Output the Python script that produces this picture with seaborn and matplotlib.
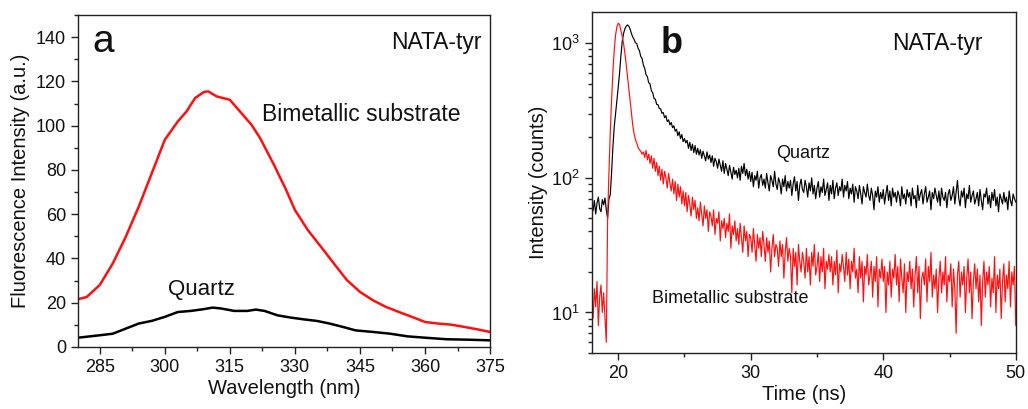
import numpy as np
import pandas as pd
import matplotlib
matplotlib.use("Agg")
import matplotlib.pyplot as plt
import seaborn as sns
from matplotlib.ticker import AutoMinorLocator, LogLocator, NullFormatter, FixedLocator

# ---------------- Panel a: emission spectra ----------------
wl_bimetal = [280, 282, 285, 288, 291, 294, 297, 300, 303, 305, 307, 309, 310, 312, 315,
              318, 320, 322, 325, 328, 330, 333, 336, 339, 342, 345, 348, 351, 354, 357,
              360, 363, 366, 369, 372, 375]
int_bimetal = [21.6, 22.6, 28.0, 37.7, 49.8, 63.4, 78.5, 93.6, 101.9, 106.4, 112.5, 115.2,
               115.5, 113.2, 111.7, 104.9, 100.4, 94.3, 83.0, 70.9, 61.9, 52.8, 45.3, 37.7,
               30.2, 24.9, 21.1, 18.1, 15.8, 13.6, 11.3, 10.6, 10.1, 9.1, 8.0, 6.8]

wl_quartz = [280, 285, 288, 291, 294, 297, 300, 303, 306, 309, 311, 313, 316, 319, 321, 323,
             326, 329, 332, 335, 338, 341, 344, 348, 352, 356, 360, 365, 370, 375]
int_quartz = [4.2, 5.3, 6.0, 8.3, 10.6, 11.8, 13.6, 15.8, 16.3, 17.1, 17.8, 17.4, 16.3, 16.3,
              16.9, 16.3, 14.3, 13.3, 12.5, 11.8, 10.6, 9.1, 7.5, 6.8, 6.0, 4.8, 4.2, 3.5,
              3.3, 3.0]

# ---------------- Panel b: decay curves (0.1 ns channels, 18-50 ns) ----------------
time_ns = np.round(np.arange(180, 501) / 10.0, 1)

counts_quartz = [
    62, 57, 68, 54, 65, 72, 59, 56, 69, 63,
    71, 58, 50, 70, 75, 110, 170, 240, 300, 380,
    470, 600, 800, 1030, 1180, 1280, 1340, 1370, 1340, 1270,
    1180, 1110, 1070, 1010, 995, 920, 880, 800, 770, 690,
    650, 585, 565, 510, 500, 445, 430, 390, 385, 352,
    350, 328, 326, 302, 306, 280, 290, 262, 270, 248,
    258, 236, 244, 222, 230, 206, 220, 196, 210, 186,
    196, 182, 190, 166, 184, 160, 178, 154, 174, 150,
    166, 148, 162, 140, 158, 146, 134, 156, 138, 148,
    130, 146, 122, 140, 132, 118, 138, 124, 112, 134,
    108, 128, 116, 104, 124, 110, 98, 120, 106, 114,
    100, 118, 96, 122, 108, 128, 104, 116, 98, 112,
    94, 110, 86, 104, 96, 112, 84, 100, 106, 88,
    98, 84, 108, 92, 80, 104, 96, 86, 112, 90,
    82, 100, 92, 76, 98, 86, 104, 80, 94, 84,
    96, 74, 90, 102, 80, 94, 68, 88, 98, 82,
    78, 96, 86, 72, 92, 80, 100, 76, 88, 70,
    84, 94, 72, 86, 78, 98, 74, 82, 92, 68,
    88, 76, 96, 70, 84, 92, 74, 86, 80, 98,
    72, 88, 80, 94, 70, 84, 76, 90, 66, 86,
    80, 70, 88, 76, 64, 86, 78, 72, 90, 74,
    68, 84, 74, 58, 80, 72, 86, 66, 78, 70,
    82, 64, 76, 88, 68, 80, 62, 84, 72, 78,
    66, 80, 74, 62, 86, 70, 76, 64, 82, 72,
    78, 62, 84, 70, 74, 60, 88, 68, 76, 82,
    64, 76, 86, 66, 72, 80, 58, 78, 70, 84,
    74, 66, 80, 62, 84, 72, 68, 78, 60, 76,
    82, 68, 74, 86, 64, 78, 96, 70, 62, 80,
    72, 84, 60, 76, 70, 88, 66, 74, 80, 64,
    70, 78, 62, 82, 68, 58, 76, 72, 84, 64,
    74, 60, 78, 68, 82, 62, 72, 56, 76, 70,
    64, 78, 66, 72, 58, 80, 68, 62, 76, 70,
    66,
]

counts_bimetal = [
    12, 9, 15, 11, 17, 8, 13, 16, 10, 14,
    9, 6, 50, 110, 220, 380, 620, 900, 1150, 1330,
    1410, 1380, 1250, 1130, 1000, 850, 700, 566, 460, 370,
    300, 245, 212, 192, 182, 168, 162, 158, 150, 156,
    142, 160, 136, 150, 128, 146, 118, 140, 112, 130,
    104, 122, 96, 116, 90, 112, 100, 84, 108, 92,
    80, 98, 76, 94, 68, 90, 72, 86, 64, 80,
    62, 78, 56, 74, 64, 52, 72, 58, 68, 50,
    60, 48, 66, 54, 44, 62, 50, 58, 40, 56,
    52, 44, 58, 38, 50, 46, 56, 34, 48, 42,
    50, 36, 46, 40, 54, 30, 44, 38, 48, 34,
    42, 32, 46, 36, 28, 44, 34, 40, 26, 38,
    36, 28, 42, 32, 24, 38, 30, 36, 26, 40,
    32, 24, 36, 28, 34, 20, 30, 38, 26, 32,
    30, 22, 34, 26, 32, 18, 28, 36, 24, 30,
    26, 14, 30, 22, 28, 16, 32, 24, 20, 28,
    24, 18, 30, 20, 26, 16, 28, 22, 32, 19,
    22, 28, 17, 26, 20, 30, 15, 24, 21, 27,
    20, 26, 16, 24, 19, 29, 14, 23, 20, 27,
    22, 17, 28, 19, 25, 15, 24, 20, 30, 18,
    21, 14, 26, 18, 24, 12, 22, 19, 27, 16,
    19, 24, 13, 22, 17, 26, 11, 21, 18, 25,
    17, 22, 10, 20, 16, 24, 13, 21, 18, 27,
    16, 22, 12, 25, 18, 14, 23, 10, 20, 17,
    24, 15, 21, 11, 19, 26, 14, 22, 9, 18,
    20, 16, 25, 12, 22, 17, 28, 13, 19, 15,
    21, 10, 18, 24, 14, 20, 16, 26, 12, 19,
    17, 23, 11, 21, 15, 7, 19, 24, 13, 20,
    16, 22, 10, 18, 25, 14, 20, 9, 17, 23,
    15, 21, 12, 19, 8, 17, 24, 13, 20, 16,
    22, 11, 18, 14, 26, 10, 19, 15, 21, 9,
    17, 23, 12, 19, 15, 24, 11, 20, 16, 22,
    8,
]

sns.set_theme(style="ticks")
plt.rcParams["font.family"] = ["Liberation Sans", "DejaVu Sans"]
plt.rcParams["mathtext.fontset"] = "custom"
plt.rcParams["mathtext.rm"] = "Liberation Sans"
plt.rcParams["axes.linewidth"] = 1.0
plt.rcParams["axes.edgecolor"] = "#222222"
plt.rcParams["text.color"] = "#111111"
plt.rcParams["axes.labelcolor"] = "#111111"

fig = plt.figure(figsize=(10.28, 4.09), dpi=100)
axa = fig.add_axes([0.0759, 0.1516, 0.4008, 0.8117])
axb = fig.add_axes([0.5756, 0.1369, 0.4125, 0.8330])

# ---- panel a
dfa1 = pd.DataFrame({"wl": wl_bimetal, "I": int_bimetal})
dfa2 = pd.DataFrame({"wl": wl_quartz, "I": int_quartz})
sns.lineplot(data=dfa1, x="wl", y="I", ax=axa, color="#ff1010", lw=1.8, sort=False, estimator=None)
sns.lineplot(data=dfa2, x="wl", y="I", ax=axa, color="black", lw=1.8, sort=False, estimator=None)
axa.set_xlim(280, 375)
axa.set_ylim(0, 150)
axa.set_xticks([285, 300, 315, 330, 345, 360, 375])
axa.set_yticks([0, 20, 40, 60, 80, 100, 120, 140])
axa.xaxis.set_minor_locator(AutoMinorLocator(2))
axa.yaxis.set_minor_locator(AutoMinorLocator(2))
axa.tick_params(which="major", direction="out", length=5, width=1, labelsize=13,
                colors="#222222", labelcolor="#111111")
axa.tick_params(which="minor", direction="out", length=3, width=1, colors="#222222")
axa.set_xlabel("Wavelength (nm)", fontsize=14.5, labelpad=2)
axa.set_ylabel("Fluorescence Intensity (a.u.)", fontsize=14.5, labelpad=4)
axa.text(283.3, 138, "a", fontsize=28, va="center", ha="left")
axa.text(373, 137.5, "NATA-tyr", fontsize=16.5, va="center", ha="right")
axa.text(322.4, 105.2, "Bimetallic substrate", fontsize=16.5, va="center", ha="left")
axa.text(300.7, 25.9, "Quartz", fontsize=16, va="center", ha="left")

# ---- panel b
dfb1 = pd.DataFrame({"t": time_ns, "c": counts_quartz})
dfb2 = pd.DataFrame({"t": time_ns, "c": counts_bimetal})
sns.lineplot(data=dfb1, x="t", y="c", ax=axb, color="black", lw=0.85, sort=False, estimator=None)
sns.lineplot(data=dfb2, x="t", y="c", ax=axb, color="#ff1010", lw=0.85, sort=False, estimator=None)
axb.set_yscale("log")
axb.set_xlim(18, 50)
axb.set_ylim(5, 1700)
axb.set_xticks([20, 30, 40, 50])
axb.xaxis.set_minor_locator(FixedLocator([25, 35, 45]))
axb.yaxis.set_major_locator(FixedLocator([10, 100, 1000]))
axb.set_yticklabels([r"$10^1$", r"$10^2$", r"$10^3$"])
axb.yaxis.set_minor_locator(LogLocator(base=10, subs=np.arange(2, 10)))
axb.yaxis.set_minor_formatter(NullFormatter())
axb.tick_params(which="major", direction="out", length=5, width=1, labelsize=13,
                colors="#222222", labelcolor="#111111")
axb.tick_params(which="minor", direction="out", length=3, width=1, colors="#222222")
axb.set_xlabel("Time (ns)", fontsize=14.5, labelpad=2)
axb.set_ylabel("Intensity (counts)", fontsize=14.5, labelpad=2)
axb.text(23.2, 1000, "b", fontsize=26, fontweight="bold", va="center", ha="left")
axb.text(47.5, 1000, "NATA-tyr", fontsize=16.5, va="center", ha="right")
axb.text(31.9, 151, "Quartz", fontsize=13, va="center", ha="left")
axb.text(22.55, 12.8, "Bimetallic substrate", fontsize=13, va="center", ha="left")

for ax in (axa, axb):
    for s in ax.spines.values():
        s.set_visible(True)

fig.savefig("out.png", dpi=100)
